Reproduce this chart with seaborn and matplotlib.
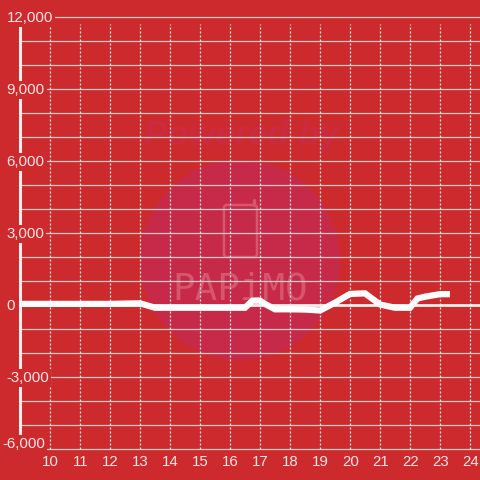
import pandas as pd
import seaborn as sns
import matplotlib.pyplot as plt
from matplotlib.patches import Circle, FancyBboxPatch

hours = [9, 10, 11, 12, 13, 13.5, 14, 15, 16, 16.5, 16.75, 17, 17.2, 17.5, 18, 18.5, 19, 19.5, 20, 20.5, 21, 21.5, 22, 22.25, 22.5, 23, 23.33]
values = [25, 25, 25, 25, 50, -135, -135, -135, -135, -135, 160, 160, 0, -200, -200, -210, -250, 75, 440, 465, 0, -135, -135, 250, 325, 430, 430]
y_ticks = list(range(-6000, 13000, 1000))
y_label_ticks = [-6000, -3000, 0, 3000, 6000, 9000, 12000]
y_label_left = [2, 6.5, 6.5, 6.5, 6.5, 6.5, 6.5]
x_ticks = list(range(10, 25))

bg = '#cd2a2e'
text_color = '#f8e4e4'
logo_color = '#d6566b'

sns.set_theme(style='white')
plt.rcParams['font.family'] = ['Liberation Sans', 'DejaVu Sans']

df = pd.DataFrame({'hour': hours, 'value': values})

fig = plt.figure(figsize=(4.8, 4.8), dpi=100, facecolor=bg)
ax = fig.add_axes([0, 0, 1, 1], facecolor=bg)
ax.set_xlim(9 - 20 / 30, 9 + 460 / 30)
ax.set_ylim(-(480 - 304.5) / 0.024, 304.5 / 0.024)
ax.axis('off')

# watermark, placed in figure pixels
px = fig.transFigure
ax.add_patch(Circle((240 / 480, 1 - 260 / 480), 100 / 480, transform=px, color='#c72a49', lw=0, zorder=1))
ax.add_patch(FancyBboxPatch((224 / 480, 1 - 257 / 480), 33 / 480, 52 / 480, boxstyle='round,pad=0,rounding_size=0.006',
                            transform=px, fill=False, ec=logo_color, lw=1.8, zorder=1))
ax.plot([254.5 / 480, 254.5 / 480], [1 - 205 / 480, 1 - 200 / 480], transform=px, color=logo_color, lw=2.4, zorder=1)
ax.text(240 / 480, 1 - 289 / 480, 'PAPiMO', color=logo_color, fontsize=27, ha='center', va='center',
        family=['DejaVu Sans Mono'], transform=px, zorder=1)
ax.text(242 / 480, 1 - 135 / 480, 'Powered by', color='#cb2b40', fontsize=25, ha='center', va='center',
        style='italic', weight='bold', transform=px, zorder=1)

for t in y_ticks:
    ax.hlines(t, 9, ax.get_xlim()[1], color='#cfcdc8', lw=0.9, zorder=2)
ax.hlines(0, 9, ax.get_xlim()[1], color='#f4eeee', lw=2, zorder=2.5)
ax.vlines(x_ticks, -6000, 11670, color='#ece2dc', lw=0.9, linestyles=(0, (1.6, 1.6)), zorder=2)
ax.vlines(9, -6000, 11670, color='#f4eeee', lw=2.2, zorder=3)

sns.lineplot(data=df, x='hour', y='value', ax=ax, color='white', lw=4.5, zorder=4, legend=False,
             solid_joinstyle='miter', solid_capstyle='butt')

for t, left in zip(y_label_ticks, y_label_left):
    y_off = 6 if t == -6000 else 0
    ax.annotate(f'{t:,}', (left / 480, t), xycoords=('figure fraction', 'data'), xytext=(0, (y_off - 1.5) * 0.72),
                textcoords='offset points', color=text_color, fontsize=10.8, ha='left', va='center', zorder=5,
                bbox=dict(facecolor=bg, edgecolor='none', pad=1.5))
for t in x_ticks:
    ax.annotate(str(t), (t, -6000), xytext=(0.4, -13 * 0.72), textcoords='offset points', color=text_color,
                fontsize=10.8, ha='center', va='center', zorder=5)

fig.savefig('out.png', dpi=100, facecolor=bg)
